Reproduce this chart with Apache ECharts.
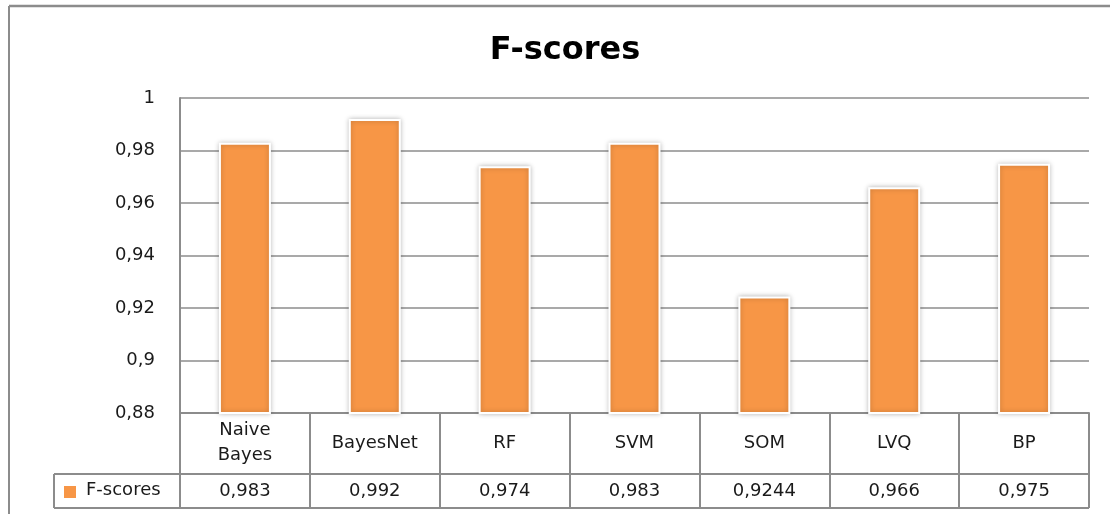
<!DOCTYPE html>
<html>
<head>
<meta charset="utf-8">
<script src="https://cdn.jsdelivr.net/npm/echarts@6/dist/echarts.min.js"></script>
<style>
html,body{margin:0;padding:0;background:#fff;}
#c{width:1110px;height:514px;}
</style>
</head>
<body>
<div id="c"></div>
<script>
var categories = ['Naive\nBayes', 'BayesNet', 'RF', 'SVM', 'SOM', 'LVQ', 'BP'];
var fScores = [0.983, 0.992, 0.974, 0.983, 0.9244, 0.966, 0.975];
var seriesName = 'F-scores';
var yTicks = [0.88, 0.9, 0.92, 0.94, 0.96, 0.98, 1];

function fmt(v) { return String(v).replace('.', ','); }

var FONT = '"DejaVu Sans", "Open Sans", sans-serif';
var LINE = '#8c8c8c';
var ORANGE = '#F79646';
var TXT = '#1a1a1a';

var chart = echarts.init(document.getElementById('c'), null, {renderer: 'canvas'});
var option = {
  backgroundColor: '#fff',
  animation: false,
  title: {
    text: 'F-scores',
    left: 560, top: 30, textAlign: 'center',
    textStyle: {fontFamily: FONT, fontWeight: 'bold', fontSize: 32, color: '#000'}
  },
  grid: {left: 180, right: 21, top: 98, bottom: 101},
  xAxis: [{
    type: 'category',
    data: categories,
    position: 'bottom',
    axisLine: {show: true, lineStyle: {color: LINE, width: 2}},
    axisTick: {show: true, alignWithLabel: false, length: 95, lineStyle: {color: LINE, width: 2}},
    axisLabel: {margin: 30, verticalAlign: 'middle', lineHeight: 25, fontFamily: FONT, fontSize: 18, color: TXT, interval: 0}
  }, {
    type: 'category',
    data: fScores.map(fmt),
    position: 'bottom',
    axisLine: {show: false},
    axisTick: {show: false},
    axisLabel: {margin: 78, verticalAlign: 'middle', fontFamily: FONT, fontSize: 18, color: TXT, interval: 0}
  }],
  yAxis: {
    type: 'value',
    min: 0.88, max: 1, interval: 0.02,
    axisLine: {show: true, lineStyle: {color: LINE, width: 2}},
    axisTick: {show: false},
    splitLine: {show: true, lineStyle: {color: LINE, width: 1.5}},
    axisLabel: {
      margin: 25, fontFamily: FONT, fontSize: 18, color: TXT,
      formatter: function (v) {
        var t = yTicks.filter(function (x) { return Math.abs(x - v) < 1e-9; })[0];
        return fmt(t !== undefined ? t : v);
      }
    }
  },
  series: [{
    name: seriesName,
    type: 'bar',
    data: fScores,
    barWidth: 52,
    itemStyle: {
      color: ORANGE, borderColor: '#fff', borderWidth: 2,
      shadowColor: 'rgba(0,0,0,0.25)', shadowBlur: 5
    }
  }],
  graphic: [
    {type: 'line', shape: {x1: 9, y1: 6, x2: 1110, y2: 6}, style: {stroke: LINE, lineWidth: 2.5}, z: 0},
    {type: 'line', shape: {x1: 9, y1: 6, x2: 9, y2: 514}, style: {stroke: LINE, lineWidth: 2}, z: 0},
    {type: 'line', shape: {x1: 54, y1: 474, x2: 1089, y2: 474}, style: {stroke: LINE, lineWidth: 2}, z: 10},
    {type: 'line', shape: {x1: 54, y1: 508, x2: 1089, y2: 508}, style: {stroke: LINE, lineWidth: 2}, z: 10},
    {type: 'line', shape: {x1: 54, y1: 474, x2: 54, y2: 508}, style: {stroke: LINE, lineWidth: 2}, z: 10},
    {type: 'rect', shape: {x: 64, y: 486, width: 12, height: 12}, style: {fill: ORANGE}, z: 10},
    {type: 'text', left: 86, top: 481, style: {text: seriesName, fontFamily: FONT, fontSize: 18, fill: TXT}, z: 10}
  ]
};
chart.setOption(option);
</script>
</body>
</html>
